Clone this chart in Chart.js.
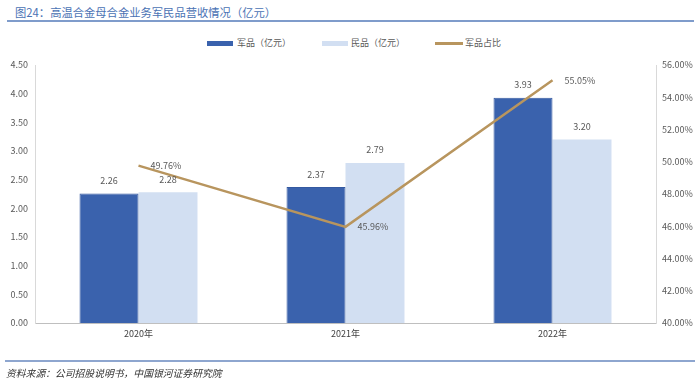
<!DOCTYPE html>
<html>
<head>
<meta charset="utf-8">
<script src="https://cdn.jsdelivr.net/npm/chart.js@4.4.1/dist/chart.umd.min.js"></script>
<style>
  html, body { margin: 0; padding: 0; background: #fff; }
  #wrap { position: relative; width: 700px; height: 387px; overflow: hidden; font-family: "Noto Sans CJK SC", "DejaVu Sans", sans-serif; }
  #title { position: absolute; left: 15px; top: 4px; font-size: 11.3px; color: #4a72b4; white-space: nowrap; line-height: 16px; }
  #tline { position: absolute; left: 7px; top: 20px; width: 687px; height: 2px; background: #7f9ccb; }
  #fline { position: absolute; left: 5px; top: 360px; width: 690px; height: 2px; background: #8ea6cf; }
  #source { position: absolute; left: 6px; top: 366px; font-size: 9.8px; font-style: italic; color: #333; white-space: nowrap; line-height: 14px; }
  .lg { position: absolute; top: 37px; font-size: 9px; color: #595959; line-height: 12px; white-space: nowrap; }
  .sw { position: absolute; }
  #cv { position: absolute; left: 0; top: 0; }
</style>
</head>
<body>
<div id="wrap">
  <div id="title">图24：高温合金母合金业务军民品营收情况（亿元）</div>
  <div id="tline"></div>
  <div class="sw" style="left:207px;top:41px;width:26px;height:5px;background:#3a62ad;"></div>
  <div class="lg" style="left:237px;">军品（亿元）</div>
  <div class="sw" style="left:322px;top:41px;width:26px;height:5px;background:#d2dff2;"></div>
  <div class="lg" style="left:351px;">民品（亿元）</div>
  <div class="sw" style="left:435px;top:42px;width:28px;height:3px;background:#b8955e;"></div>
  <div class="lg" style="left:465px;">军品占比</div>
  <canvas id="cv" width="700" height="387"></canvas>
  <div id="fline"></div>
  <div id="source">资料来源：公司招股说明书，中国银河证券研究院</div>
</div>
<script>
const categories = ["2020年", "2021年", "2022年"];
const militaryValues = [2.26, 2.37, 3.93];
const civilValues = [2.28, 2.79, 3.20];
const militaryShare = [49.76, 45.96, 55.05];
const leftTicks = [0, 0.5, 1, 1.5, 2, 2.5, 3, 3.5, 4, 4.5];
const rightTicks = [40, 42, 44, 46, 48, 50, 52, 54, 56];

const labelPlugin = {
  id: 'valueLabels',
  afterDatasetsDraw(chart) {
    const ctx = chart.ctx;
    ctx.save();
    ctx.font = '9px "Noto Sans CJK SC", "DejaVu Sans", sans-serif';
    ctx.fillStyle = '#595959';
    ctx.textBaseline = 'middle';
    chart.data.datasets.forEach((ds, di) => {
      const meta = chart.getDatasetMeta(di);
      meta.data.forEach((el, i) => {
        const v = ds.data[i];
        if (ds.type === 'line') {
          ctx.textAlign = 'left';
          ctx.fillText(v.toFixed(2) + '%', el.x + 12, el.y);
        } else {
          ctx.textAlign = 'center';
          ctx.fillText(v.toFixed(2), el.x, el.y - 13);
        }
      });
    });
    ctx.restore();
  }
};

const tickFont = { family: '"Noto Sans CJK SC", "DejaVu Sans", sans-serif', size: 9 };

new Chart(document.getElementById('cv'), {
  data: {
    labels: categories,
    datasets: [
      { type: 'line', label: '军品占比', data: militaryShare, yAxisID: 'y1', borderColor: '#b8955e', borderWidth: 2.5, pointRadius: 0, tension: 0, order: 0 },
      { type: 'bar', label: '军品（亿元）', data: militaryValues, yAxisID: 'y', backgroundColor: '#3a62ad', borderColor: '#3459a0', borderWidth: 1, order: 1, barPercentage: 1, categoryPercentage: 0.57 },
      { type: 'bar', label: '民品（亿元）', data: civilValues, yAxisID: 'y', backgroundColor: '#d2dff2', borderWidth: 0, order: 1, barPercentage: 1, categoryPercentage: 0.57 }
    ]
  },
  options: {
    responsive: false,
    animation: false,
    layout: { padding: { top: 65, left: 0, right: 0, bottom: 0 } },
    plugins: { legend: { display: false }, tooltip: { enabled: false } },
    scales: {
      x: {
        grid: { display: false, drawTicks: false },
        border: { display: true, color: '#bfbfbf', width: 1 },
        ticks: { color: '#404040', font: tickFont, padding: 5 },
        afterFit(s) { s.height = 64; }
      },
      y: {
        position: 'left',
        min: 0, max: 4.5,
        afterBuildTicks(s) { s.ticks = leftTicks.map(v => ({ value: v })); },
        grid: { display: false, drawTicks: false },
        border: { display: true, color: '#d9d9d9', width: 1 },
        ticks: { color: '#595959', font: tickFont, padding: 7, callback: v => Number(v).toFixed(2) },
        afterFit(s) { s.width = 35; }
      },
      y1: {
        position: 'right',
        min: 40, max: 56,
        afterBuildTicks(s) { s.ticks = rightTicks.map(v => ({ value: v })); },
        grid: { display: false, drawTicks: false },
        border: { display: true, color: '#d9d9d9', width: 1 },
        ticks: { color: '#595959', font: tickFont, padding: 6, callback: v => Number(v).toFixed(2) + '%' },
        afterFit(s) { s.width = 44; }
      }
    }
  },
  plugins: [labelPlugin]
});
</script>
</body>
</html>
